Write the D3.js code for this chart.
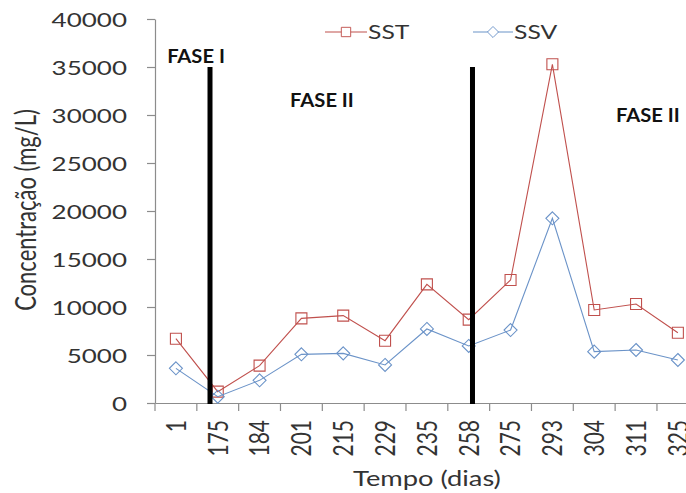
<!DOCTYPE html>
<html>
<head>
<meta charset="utf-8">
<script src="https://cdn.jsdelivr.net/npm/d3@7"></script>
<style>
  html, body { margin: 0; padding: 0; background: #ffffff; overflow: hidden; }
  svg { display: block; font-family: Lato, "Open Sans", sans-serif; }
</style>
</head>
<body>
<svg id="chart" width="686" height="493"></svg>
<script>
// ---------------- data ----------------
const categories = ["1", "175", "184", "201", "215", "229", "235", "258", "275", "293", "304", "311", "325"];
const sstValues = [6700, 1180, 3890, 8820, 9100, 6490, 12360, 8680, 12810, 35280, 9690, 10310, 7320];
const ssvValues = [3610, 660, 2360, 5070, 5170, 3960, 7710, 5940, 7600, 19240, 5350, 5520, 4480];
const yTicks = [0, 5000, 10000, 15000, 20000, 25000, 30000, 35000, 40000];
const seriesNames = ["SST", "SSV"];
// phase separators: position in category units (0 = left edge of first category), height in mg/L
const phaseLinePos = [1.315, 7.59];
const phaseLineTop = 35000;
// phase labels: text, position in category units, baseline value
const phaseLabels = ["FASE I", "FASE II", "FASE II"];
const phaseLabelPos = [0.29, 3.23, 11.02];
const phaseLabelVal = [35400, 30850, 29250];

// ---------------- layout ----------------
const svg = d3.select("#chart");
const mLeft = 155, mTop = 19, mBottom = 403, step = 41.83;
const mRight = mLeft + step * categories.length;
const SX = 1.3; // horizontal stretch of the original image's text

const x = d3.scaleBand().domain(categories).range([mLeft, mRight]).padding(0);
const xu = d3.scaleLinear().domain([0, categories.length]).range([mLeft, mRight]);
const y = d3.scaleLinear().domain([0, 40000]).range([mBottom, mTop]);

const colors = { SST: "#c0504d", SSV: "#6b93c8" };
const axisColor = "#8c8c8c";
const textColor = "#333333";

// ---------------- y axis ----------------
const yAxis = svg.append("g")
  .attr("transform", `translate(${mLeft},0)`)
  .call(d3.axisLeft(y).tickValues(yTicks).tickSize(8).tickSizeOuter(0).tickFormat(d3.format("d")));
yAxis.select(".domain").attr("stroke", axisColor).attr("stroke-width", 1.2);
yAxis.selectAll(".tick line").attr("stroke", axisColor).attr("stroke-width", 1.2);
yAxis.selectAll(".tick text")
  .attr("x", 0).attr("dy", "0.36em")
  .attr("text-anchor", "end")
  .attr("transform", `translate(-28,0) scale(${SX},1)`)
  .attr("font-size", 20)
  .attr("font-family", "Lato")
  .attr("fill", textColor);

// ---------------- x axis ----------------
const xAxis = svg.append("g")
  .attr("transform", `translate(0,${mBottom})`)
  .call(d3.axisBottom(x).tickSize(0).tickSizeOuter(0));
xAxis.select(".domain").attr("stroke", axisColor).attr("stroke-width", 1.2);
xAxis.selectAll(".tick text")
  .attr("x", 0).attr("y", 0).attr("dy", "0.36em")
  .attr("text-anchor", "end")
  .attr("transform", `translate(0,17) scale(${SX},1) rotate(-90)`)
  .attr("font-size", 21)
  .attr("font-family", "Lato")
  .attr("fill", textColor);
// tick marks between categories
xAxis.selectAll("line.sep")
  .data(d3.range(categories.length))
  .enter().append("line")
  .attr("class", "sep")
  .attr("x1", i => xu(i)).attr("x2", i => xu(i))
  .attr("y1", 0).attr("y2", 8)
  .attr("stroke", axisColor).attr("stroke-width", 1.2);

// ---------------- axis titles ----------------
svg.append("text")
  .attr("transform", `translate(427,486) scale(${SX},1)`)
  .attr("text-anchor", "middle")
  .attr("font-size", 21)
  .attr("font-family", "Lato")
  .attr("fill", textColor)
  .text("Tempo (dias)");

svg.append("text")
  .attr("transform", `translate(36,210) scale(${SX},1) rotate(-90)`)
  .attr("text-anchor", "middle")
  .attr("font-size", 22)
  .attr("font-family", "Lato")
  .attr("fill", textColor)
  .text("Concentração (mg/L)");

// ---------------- series ----------------
const cx = c => x(c) + x.bandwidth() / 2;
const squarePath = "M-5.5,-5.5H5.5V5.5H-5.5Z";
const diamondPath = "M0,-6.5L6.5,0L0,6.5L-6.5,0Z";
const series = [
  { name: "SST", values: sstValues, marker: squarePath },
  { name: "SSV", values: ssvValues, marker: diamondPath }
];
const line = d3.line().x(d => cx(d.c)).y(d => y(d.v));

series.forEach(s => {
  const pts = categories.map((c, i) => ({ c: c, v: s.values[i] }));
  const g = svg.append("g");
  g.append("path")
    .datum(pts)
    .attr("d", line)
    .attr("fill", "none")
    .attr("stroke", colors[s.name])
    .attr("stroke-width", 1.1);
  g.selectAll("path.m")
    .data(pts)
    .enter().append("path")
    .attr("class", "m")
    .attr("d", s.marker)
    .attr("transform", d => `translate(${cx(d.c)},${y(d.v)})`)
    .attr("fill", "none")
    .attr("stroke", colors[s.name])
    .attr("stroke-width", 1.1);
});

// ---------------- phase separators ----------------
svg.selectAll("line.phase")
  .data(phaseLinePos)
  .enter().append("line")
  .attr("class", "phase")
  .attr("x1", d => xu(d)).attr("x2", d => xu(d))
  .attr("y1", y(phaseLineTop)).attr("y2", y(0) + 1)
  .attr("stroke", "#000")
  .attr("stroke-width", 5);

svg.selectAll("text.phase")
  .data(phaseLabels)
  .enter().append("text")
  .attr("class", "phase")
  .attr("transform", (d, i) => `translate(${xu(phaseLabelPos[i])},${y(phaseLabelVal[i])}) scale(1.12,1)`)
  .attr("font-size", 18)
  .attr("font-weight", "bold")
  .attr("font-family", "Lato")
  .attr("fill", "#111")
  .text(d => d);

// ---------------- legend ----------------
const legendX = [325, 473];
const legendLen = [42, 40];
const legendY = 32;
const legend = svg.selectAll("g.legend")
  .data(series)
  .enter().append("g")
  .attr("class", "legend")
  .attr("transform", (d, i) => `translate(${legendX[i]},${legendY})`);
legend.append("line")
  .attr("x1", 0).attr("x2", (d, i) => legendLen[i])
  .attr("y1", 0).attr("y2", 0)
  .attr("stroke", d => colors[d.name]).attr("stroke-width", 1.1);
legend.append("path")
  .attr("d", d => d.marker)
  .attr("transform", (d, i) => `translate(${legendLen[i] / 2},0) scale(0.85)`)
  .attr("fill", "#fff")
  .attr("stroke", d => colors[d.name]).attr("stroke-width", 1.1);
legend.append("text")
  .attr("transform", (d, i) => `translate(${legendLen[i] + 1},0) scale(${SX},1)`)
  .attr("dy", "0.36em")
  .attr("font-size", 19)
  .attr("font-family", "Lato")
  .attr("fill", textColor)
  .text(d => d.name);
</script>
</body>
</html>
